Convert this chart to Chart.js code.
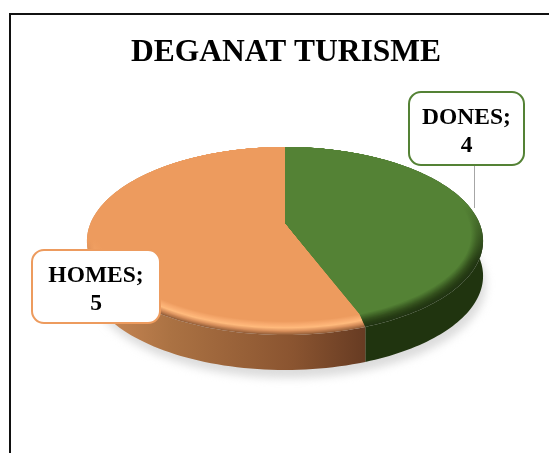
<!DOCTYPE html>
<html>
<head>
<meta charset="utf-8">
<title>Deganat turisme</title>
<script src="https://cdn.jsdelivr.net/npm/chart.js@4"></script>
<style>
    html, body { margin: 0; padding: 0; background: #fff; overflow: hidden; }
    canvas { display: block; }
</style>
</head>
<body>
<canvas id="deganat" width="549" height="453"></canvas>
<script>
const categories = ["DONES", "HOMES"];
const values = [4, 5];
const chartTitle = "DEGANAT TURISME";

const sliceColors = ["#548235", "#ED9B5E"];
// from outer edge of the bevel to the flat face
const rimColors = [
    [[33, 52, 18], [38, 60, 20], [50, 78, 28], [66, 104, 40], [84, 130, 53]],
    [[150, 96, 58], [215, 142, 90], [255, 186, 124], [248, 170, 110], [237, 155, 94]],
];
const rimFade = [[205, 262], [240, 300]];
const wallStops = [
    [[0, "#20340f"], [1, "#20340f"]],
    [[0, "#d08c58"], [0.3, "#ab7243"], [0.75, "#8a5430"], [1, "#683c23"]],
];
const callouts = [
    { x: 409, y: 92, w: 115, h: 73, line: [474, 165, 474, 208] },
    { x: 32, y: 250, w: 128, h: 73 },
];

// the pie is seen from the front, so the circle goes through a perspective map
const pieX = 285, pieY = 224;
const scaleX = 194.8, scaleY = 90.9, tilt = -0.181, wallDepth = 35;

function project(u, v, drop) {
    const d = 1 + tilt * v;
    return [pieX + scaleX * u / d, pieY + scaleY * v / d + (drop || 0)];
}

function ringPath(ctx, arc, r) {
    const c = project(0, 0);
    ctx.beginPath();
    ctx.moveTo(c[0], c[1]);
    for (let i = 0; i <= 120; i++) {
        const a = arc.startAngle + (arc.endAngle - arc.startAngle) * i / 120;
        const p = project(r * Math.cos(a), r * Math.sin(a) - (1 - r));
        ctx.lineTo(p[0], p[1]);
    }
    ctx.closePath();
}

function wallPath(ctx, arc) {
    const pts = [];
    for (let i = 0; i <= 120; i++) {
        const a = arc.startAngle + (arc.endAngle - arc.startAngle) * i / 120;
        pts.push(project(Math.cos(a), Math.sin(a)));
    }
    ctx.beginPath();
    pts.forEach(function (p, i) {
        if (i === 0) ctx.moveTo(p[0], p[1]);
        else ctx.lineTo(p[0], p[1]);
    });
    pts.slice().reverse().forEach(function (p) {
        ctx.lineTo(p[0], p[1] + wallDepth);
    });
    ctx.closePath();
}

function rimColor(i, t) {
    const list = rimColors[i];
    const pos = t * (list.length - 1);
    const k = Math.min(Math.floor(pos), list.length - 2);
    const f = pos - k;
    const c = list[k].map(function (v, j) {
        return Math.round(v + (list[k + 1][j] - v) * f);
    });
    return "rgb(" + c.join(",") + ")";
}

const pie3d = {
    id: "pie3d",
    beforeDraw(chart) {
        // frame of the original picture, it runs off the right and the bottom
        const ctx = chart.ctx;
        ctx.save();
        ctx.strokeStyle = "#111";
        ctx.lineWidth = 2;
        ctx.beginPath();
        ctx.moveTo(10, 453);
        ctx.lineTo(10, 14);
        ctx.lineTo(549, 14);
        ctx.stroke();
        ctx.restore();
    },
    beforeDatasetDraw(chart, args) {
        const ctx = chart.ctx;
        const arcs = args.meta.data;

        // soft shadow under the pie
        ctx.save();
        ctx.filter = "blur(4px)";
        ctx.fillStyle = "#dcdcdc";
        ctx.beginPath();
        for (let i = 0; i <= 180; i++) {
            const a = i / 180 * Math.PI * 2;
            const p = project(Math.cos(a), Math.sin(a), wallDepth + 8);
            if (i === 0) ctx.moveTo(p[0] + 3, p[1]);
            else ctx.lineTo(p[0] + 3, p[1]);
        }
        ctx.closePath();
        ctx.fill();
        ctx.restore();

        arcs.forEach(function (arc, i) {
            const g = ctx.createLinearGradient(87, 0, 363, 0);
            wallStops[i].forEach(function (s) { g.addColorStop(s[0], s[1]); });
            ctx.fillStyle = g;
            wallPath(ctx, arc);
            ctx.fill();
        });

        // bevel: rings shrink towards the back, dark only on the front side
        const steps = 14;
        arcs.forEach(function (arc, i) {
            for (let k = 0; k <= steps; k++) {
                const t = k / steps;
                const g = ctx.createLinearGradient(0, rimFade[i][0], 0, rimFade[i][1]);
                g.addColorStop(0, sliceColors[i]);
                g.addColorStop(1, rimColor(i, t));
                ctx.fillStyle = g;
                ringPath(ctx, arc, 1 - 0.05 * t);
                ctx.fill();
            }
        });

        return false; // arcs are painted above, skip the flat ones
    },
    afterDatasetsDraw(chart) {
        const ctx = chart.ctx;
        callouts.forEach(function (box, i) {
            ctx.save();
            if (box.line) {
                ctx.strokeStyle = "#a6a6a6";
                ctx.lineWidth = 1;
                ctx.beginPath();
                ctx.moveTo(box.line[0] + 0.5, box.line[1]);
                ctx.lineTo(box.line[2] + 0.5, box.line[3]);
                ctx.stroke();
            }
            ctx.fillStyle = "#fff";
            ctx.strokeStyle = sliceColors[i];
            ctx.lineWidth = 2;
            ctx.beginPath();
            ctx.roundRect(box.x, box.y, box.w, box.h, 12);
            ctx.fill();
            ctx.stroke();
            ctx.fillStyle = "#000";
            ctx.font = "bold 23.5px 'Liberation Serif'";
            ctx.textAlign = "center";
            ctx.textBaseline = "alphabetic";
            ctx.fillText(categories[i] + ";", box.x + box.w / 2, box.y + 32);
            ctx.fillText(String(values[i]), box.x + box.w / 2, box.y + 60);
            ctx.restore();
        });
    },
};

new Chart(document.getElementById("deganat"), {
    type: "pie",
    data: {
        labels: categories,
        datasets: [
            {
                data: values,
                backgroundColor: sliceColors,
                borderWidth: 0,
            },
        ],
    },
    options: {
        responsive: false,
        animation: false,
        layout: {
            padding: { top: 34, left: 23 },
        },
        plugins: {
            legend: { display: false },
            tooltip: { enabled: false },
            title: {
                display: true,
                text: chartTitle,
                color: "#000",
                font: { family: "'Liberation Serif'", size: 31.5, weight: "bold" },
                padding: 0,
            },
        },
    },
    plugins: [pie3d],
});
</script>
</body>
</html>
